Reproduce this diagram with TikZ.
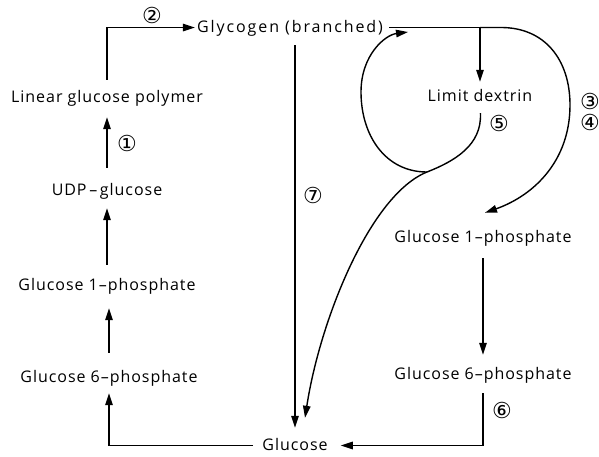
\documentclass[tikz,border=0pt]{standalone}
\usepackage{fontspec}
\setmainfont[LetterSpace=6]{Open Sans}
\newfontfamily\circfont{DejaVu Sans}
\usetikzlibrary{arrows.meta,calc}
\begin{document}
\begin{tikzpicture}[x=1pt,y=-1pt,
  txt/.style={inner sep=0pt, text height=12pt, text depth=3pt, anchor=base,
              font=\fontsize{16}{18}\selectfont},
  num/.style={inner sep=0pt, font=\circfont\fontsize{22}{22}\selectfont},
  conn/.style={line width=1.4pt},
  arr/.style={conn, -{Triangle[length=12pt,width=7.5pt]}}]
\useasboundingbox (0,0) rectangle (599,456);
% nodes
\node[txt] (gly)  at (290,32)  {\addfontfeature{LetterSpace=12}Glycogen (branched)};
\node[txt] (lgp)  at (107,102) {Linear glucose polymer};
\node[txt] (udp)  at (107,195) {UDP\,–\,glucose};
\node[txt] (g1pL) at (107,290) {Glucose  1–phosphate};
\node[txt] (g6pL) at (109,382) {Glucose  6–phosphate};
\node[txt] (glc)  at (295,450) {Glucose};
\node[txt] (ld)   at (480,101) {Limit  dextrin};
\node[txt] (g1pR) at (483,242) {Glucose  1–phosphate};
\node[txt] (g6pR) at (483,379) {Glucose  6–phosphate};
% labels
\node[num] (n1) at (127,143) {①};
\node[num] (n2) at (152,15)  {②};
\node[num] (n3) at (590,101) {③};
\node[num] (n4) at (590,122) {④};
\node[num] (n5) at (499,123) {⑤};
\node[num] (n6) at (502,410) {⑥};
\node[num] (n7) at (313,195) {⑦};
% coordinates
\coordinate (br) at (gly.east -| ld.north);
\coordinate (cross) at (427,172);
\coordinate (loopend) at (408,32);
% left column
\draw[arr, shorten <=15pt, shorten >=12pt] (udp.north) -- (lgp.south);
\draw[arr, shorten <=13pt, shorten >=10pt] (g1pL.north -| udp.north) -- (udp.south);
\draw[arr, shorten <=17pt, shorten >=15pt] (g6pL.north) -- (g6pL.north |- g1pL.south);
\draw[arr, shorten <=9pt, shorten >=8pt] (glc.west) -| (g6pL.south);
\draw[arr, shorten <=10pt, shorten >=2pt] (lgp.north) |- (gly.west);
% glycogen to glucose (7)
\draw[arr, shorten <=10pt, shorten >=10pt] (gly.south -| glc.north) -- (glc.north);
% glycogen breakdown
\draw[conn, shorten <=6pt] (gly.east) -- (br);
\draw[arr, shorten >=7pt] (br) -- (ld.north);
\draw[arr] (br) -- (br -| 500,0) .. controls (545,27) and (570,60) .. (570,105)
   .. controls (570,160) and (535,195) .. ($(g1pR.north)+(2,-17)$);
% right column
\draw[arr, shorten <=13pt, shorten >=12pt] (g1pR.south) -- (g6pR.north);
\draw[arr, shorten <=11pt, shorten >=13pt] (g6pR.south) |- (glc.east);
% limit dextrin S-curve and loop
\draw[conn, shorten <=9pt] (ld.south) .. controls (482,145) and (455,161) .. (cross);
\draw[arr] (cross) .. controls (370,195) and (320,320) .. ($(glc.north)+(10,-20)$);
\draw[arr] (cross) .. controls (385,172) and (361,135) .. (361,92)
   .. controls (361,55) and (385,35) .. (loopend);
\end{tikzpicture}
\end{document}
